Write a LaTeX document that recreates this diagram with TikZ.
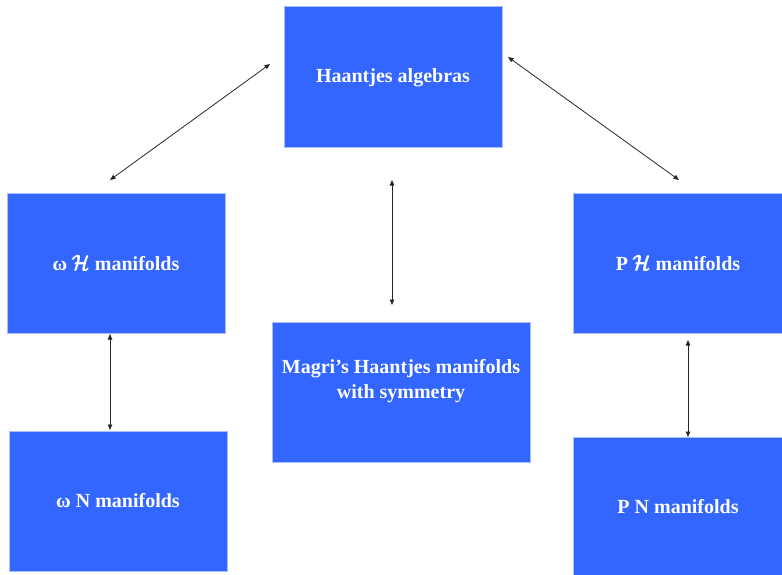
\documentclass[tikz,border=0pt]{standalone}
\usepackage{fontspec}
\usepackage{amsmath,bm}
\setmainfont{Liberation Serif}
\usetikzlibrary{arrows.meta}
\definecolor{boxblue}{HTML}{3366FF}
\definecolor{boxedge}{HTML}{A8BEFF}
\newcommand{\scrH}{$\pmb{\mathcal{H}}$}
\begin{document}
\begin{tikzpicture}[x=1pt,y=-1pt,
  box/.style={rectangle, fill=boxblue, draw=boxedge, line width=0.6pt, inner sep=0pt,
    text=white, font=\fontsize{20}{25}\selectfont\bfseries, align=center},
  boxtext/.style={text=white, font=\fontsize{20}{25}\selectfont\bfseries, align=center, inner sep=0pt},
  conn/.style={draw=black!85, line width=0.8pt,
    {Triangle[length=5.5pt,width=4.5pt]}-{Triangle[length=5.5pt,width=4.5pt]}}]
\useasboundingbox (0,0) rectangle (782,575);
\node[box, minimum width=218pt, minimum height=141pt, text depth=2pt] (ha) at (393,76.5) {Haantjes algebras};
\node[box, minimum width=218pt, minimum height=140pt] (wh) at (116,263) {ω \scrH{} manifolds};
\node[box, minimum width=210pt, minimum height=140pt] (ph) at (678,263) {P \scrH{} manifolds};
\node[box, minimum width=258pt, minimum height=140pt] (mg) at (401,392) {};
\node[boxtext] (mgt) at (401,381) {Magri’s Haantjes manifolds\\with symmetry};
\node[box, minimum width=218pt, minimum height=140pt] (wn) at (118,501) {ω N manifolds};
\node[box, minimum width=210pt, minimum height=140pt] (pn) at (678,507) {P N manifolds};
\coordinate (a1) at (270,64);
\coordinate (a2) at (110,180);
\coordinate (b1) at (508,57);
\coordinate (b2) at (679,180);
\coordinate (c1) at (392,180);
\coordinate (c2) at (392,305);
\coordinate (d1) at (110,334);
\coordinate (d2) at (110,430);
\coordinate (e1) at (688,340);
\coordinate (e2) at (688,437);
\draw[conn] (a1) -- (a2);
\draw[conn] (b1) -- (b2);
\draw[conn] (c1) -- (c2);
\draw[conn] (d1) -- (d2);
\draw[conn] (e1) -- (e2);
\end{tikzpicture}
\end{document}
